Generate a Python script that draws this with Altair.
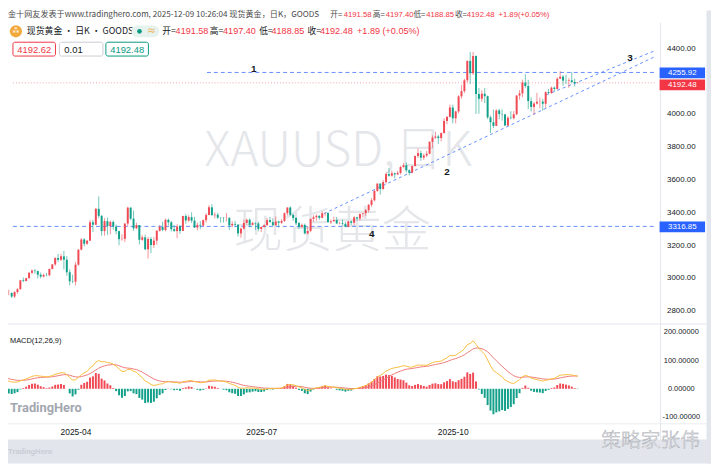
import altair as alt
import pandas as pd
import numpy as np

# ---------------- data (daily XAUUSD, 2025-03-03 .. 2025-12-09, Good Friday excluded) ----------------
# earlier closes (Nov 2024 - Feb 2025), only used to warm up the MACD
warmup_closes = [
    2736, 2736, 2742, 2659, 2706, 2685, 2619, 2598, 2573, 2565, 2563, 2612, 2631, 2651, 2670, 2715, 2625, 2630, 2636, 2640, 2650,
    2639, 2643, 2650, 2632, 2633, 2660, 2694, 2718, 2680, 2648, 2652, 2646, 2586, 2594, 2622, 2612, 2618, 2633, 2621, 2606, 2625,
    2658, 2640, 2636, 2649, 2662, 2670, 2690, 2662, 2677, 2697, 2714, 2703, 2708, 2745, 2755, 2754, 2770, 2740, 2763, 2760, 2794, 2798,
    2815, 2842, 2867, 2856, 2861, 2908, 2898, 2904, 2928, 2883, 2898, 2935, 2933, 2939, 2936, 2951, 2915, 2916, 2876, 2858,
]

opens = [
    # Mar
    2858, 2893, 2918, 2920, 2910, 2910, 2889, 2916, 2934, 2988, 2984, 3001, 3034, 3047, 3044, 3022, 3011, 3020, 3019, 3057, 3085,
    # Apr
    3124, 3113, 3134, 3114, 3037, 2982, 2980, 3083, 3175, 3237, 3211, 3230, 3342, 3327, 3424, 3381, 3288, 3349, 3319, 3344, 3316,
    # May
    3288, 3239, 3241, 3334, 3431, 3364, 3305, 3325, 3235, 3250, 3177, 3240, 3203, 3230, 3290, 3314, 3295, 3357, 3342, 3300, 3288, 3317,
    # Jun
    3289, 3380, 3353, 3373, 3352, 3310, 3326, 3322, 3355, 3386, 3433, 3385, 3388, 3370, 3369, 3368, 3369, 3323, 3332, 3327, 3274,
    # Jul
    3303, 3338, 3357, 3326, 3337, 3335, 3301, 3313, 3324, 3355, 3343, 3324, 3347, 3339, 3350, 3397, 3432, 3387, 3368, 3337, 3314, 3326, 3274,
    # Aug
    3289, 3363, 3373, 3381, 3369, 3397, 3398, 3342, 3348, 3356, 3335, 3336, 3332, 3315, 3348, 3339, 3372, 3365, 3393, 3397, 3416,
    # Sep
    3448, 3476, 3533, 3578, 3545, 3587, 3636, 3626, 3641, 3634, 3643, 3679, 3690, 3659, 3644, 3685, 3746, 3764, 3736, 3749, 3760, 3833,
    # Oct
    3858, 3865, 3856, 3886, 3960, 3985, 4042, 3976, 4018, 4110, 4142, 4208, 4326, 4251, 4356, 4125, 4095, 4126, 4111, 3982, 3952, 3930, 4024,
    # Nov
    4002, 4000, 3932, 3980, 3977, 4001, 4115, 4128, 4194, 4173, 4081, 4045, 4066, 4077, 4078, 4065, 4136, 4131, 4163, 4155,
    # Dec
    4218, 4230, 4206, 4205, 4208, 4198, 4191.58,
]
highs = [
    2895, 2928, 2930, 2927, 2930, 2915, 2922, 2940, 2990, 3005, 3004, 3038, 3055, 3057, 3047, 3035, 3029, 3033, 3060, 3087, 3128,
    3149, 3149, 3167, 3136, 3055, 3023, 3099, 3177, 3245, 3245, 3232, 3357, 3357, 3430, 3500, 3386, 3367, 3371, 3352, 3353, 3328,
    3290, 3269, 3336, 3437, 3434, 3414, 3339, 3325, 3264, 3266, 3252, 3253, 3252, 3295, 3325, 3345, 3365, 3365, 3350, 3325, 3330, 3326,
    3382, 3392, 3385, 3403, 3375, 3340, 3349, 3360, 3398, 3446, 3452, 3403, 3399, 3372, 3374, 3398, 3372, 3348, 3350, 3329, 3310,
    3358, 3365, 3366, 3345, 3343, 3346, 3317, 3330, 3368, 3375, 3366, 3377, 3352, 3361, 3402, 3433, 3439, 3393, 3373, 3345, 3334, 3334, 3315,
    3363, 3385, 3390, 3385, 3409, 3400, 3404, 3358, 3375, 3375, 3345, 3358, 3345, 3350, 3351, 3379, 3376, 3394, 3398, 3423, 3454,
    3489, 3540, 3578, 3579, 3600, 3646, 3674, 3657, 3645, 3655, 3686, 3703, 3707, 3665, 3687, 3749, 3791, 3779, 3761, 3777, 3835, 3872,
    3895, 3875, 3890, 3977, 3990, 4060, 4059, 4022, 4117, 4179, 4218, 4330, 4380, 4381, 4360, 4161, 4147, 4161, 4115, 3993, 4030, 4031, 4034,
    4030, 4003, 3990, 4020, 4020, 4117, 4148, 4212, 4245, 4211, 4104, 4075, 4132, 4103, 4095, 4140, 4155, 4170, 4170, 4225,
    4264, 4240, 4242, 4221, 4259, 4218, 4197.40,
]
lows = [
    2832, 2880, 2894, 2895, 2897, 2880, 2880, 2906, 2930, 2976, 2981, 2998, 3025, 3028, 2999, 3000, 3005, 3012, 3013, 3054, 3076,
    3100, 3106, 3054, 3015, 2957, 2970, 2957, 3076, 3170, 3194, 3204, 3228, 3283, 3325, 3367, 3260, 3260, 3265, 3268, 3297, 3268,
    3202, 3229, 3221, 3318, 3355, 3290, 3300, 3207, 3228, 3172, 3121, 3154, 3185, 3205, 3285, 3287, 3287, 3322, 3286, 3285, 3245, 3271,
    3289, 3333, 3343, 3338, 3307, 3293, 3300, 3314, 3340, 3385, 3383, 3366, 3362, 3340, 3340, 3347, 3295, 3311, 3312, 3255, 3247,
    3298, 3328, 3311, 3323, 3296, 3287, 3282, 3309, 3321, 3341, 3320, 3320, 3309, 3332, 3344, 3383, 3381, 3351, 3325, 3301, 3308, 3268, 3268,
    3281, 3345, 3352, 3357, 3367, 3378, 3341, 3331, 3347, 3331, 3330, 3323, 3311, 3311, 3325, 3322, 3351, 3351, 3372, 3379, 3401,
    3436, 3470, 3528, 3511, 3540, 3578, 3620, 3620, 3610, 3630, 3633, 3675, 3646, 3628, 3640, 3683, 3735, 3717, 3722, 3740, 3757, 3793,
    3850, 3820, 3835, 3884, 3940, 3981, 3945, 3945, 4005, 4095, 4130, 4195, 4185, 4240, 4003, 4004, 4077, 4069, 3971, 3886, 3917, 3930, 3970,
    3962, 3930, 3930, 3970, 3970, 3995, 4090, 4105, 4160, 4032, 4017, 3998, 4060, 4037, 4023, 4041, 4125, 4125, 4140, 4153,
    4215, 4175, 4185, 4162, 4190, 4170, 4188.85,
]
closes = [
    2893, 2918, 2920, 2910, 2910, 2889, 2916, 2934, 2988, 2984, 3001, 3034, 3047, 3044, 3022, 3011, 3020, 3019, 3057, 3085, 3124,
    3113, 3134, 3114, 3037, 2982, 2980, 3083, 3175, 3237, 3211, 3230, 3342, 3327, 3424, 3381, 3288, 3349, 3319, 3344, 3316, 3288,
    3239, 3241, 3334, 3431, 3364, 3305, 3325, 3235, 3250, 3177, 3240, 3203, 3230, 3290, 3314, 3295, 3357, 3342, 3300, 3288, 3317, 3289,
    3380, 3353, 3373, 3352, 3310, 3326, 3322, 3355, 3386, 3433, 3385, 3388, 3370, 3369, 3368, 3369, 3323, 3332, 3327, 3274, 3303,
    3338, 3357, 3326, 3337, 3335, 3301, 3313, 3324, 3355, 3343, 3324, 3347, 3339, 3350, 3397, 3432, 3387, 3368, 3337, 3314, 3326, 3274, 3289,
    3363, 3373, 3381, 3369, 3397, 3398, 3342, 3348, 3356, 3335, 3336, 3332, 3315, 3348, 3339, 3372, 3365, 3393, 3397, 3416, 3448,
    3476, 3533, 3578, 3545, 3587, 3636, 3626, 3641, 3634, 3643, 3679, 3690, 3659, 3644, 3685, 3746, 3764, 3736, 3749, 3760, 3833, 3858,
    3865, 3856, 3886, 3960, 3985, 4042, 3976, 4018, 4110, 4142, 4208, 4326, 4251, 4356, 4125, 4095, 4126, 4111, 3982, 3952, 3930, 4024, 4002,
    4000, 3932, 3980, 3977, 4001, 4115, 4128, 4194, 4173, 4081, 4045, 4066, 4077, 4078, 4065, 4136, 4131, 4163, 4155, 4218,
    4230, 4206, 4205, 4208, 4198, 4190.59, 4192.48,
]

month_labels = ["2025-04", "2025-07", "2025-10"]
month_index = [21, 85, 151]
price_ticks = [4400, 4000, 3800, 3600, 3400, 3200, 3000, 2800]
macd_ticks = [200, 100, 0, -100]

hline_prices = [4255.92, 3316.85]
hline_from = [72.3, 5.44]
last_price = [4192.48]
trend_x0 = [112.6, 189.2]
trend_p0 = [3395, 4119]
trend_x1 = [227.1, 227.1]
trend_p1 = [4356, 4392]
wave_labels = ["1", "2", "3", "4"]
wave_index = [88.4, 155.0, 218.1, 129.1]
wave_price = [4277, 3650, 4344, 3271]

# ---------------- styling / layout ----------------
W, H = 711, 458
RED, GREEN, BLUE, DARK = "#f23645", "#089981", "#2962ff", "#131722"
FONT = "Noto Sans CJK SC"
NUMF = "Liberation Sans"
X_END = 227.1
XS = alt.Scale(domain=[5.44, 244.27], nice=False, zero=False)
PS = alt.Scale(domain=[1870.9, 4633.3], nice=False, zero=False)
MS = alt.Scale(domain=[-264.9, 1342.1], nice=False, zero=False)

n = len(closes)
df = pd.DataFrame({"i": range(n), "o": opens, "h": highs, "l": lows, "c": closes})
df["col"] = np.where(df["c"] >= df["o"], "#f04a55", "#13a08a")

allc = pd.Series(warmup_closes + closes, dtype=float)
ema12 = allc.ewm(span=12, adjust=False).mean()
ema26 = allc.ewm(span=26, adjust=False).mean()
dif = ema12 - ema26
dea = dif.ewm(span=9, adjust=False).mean()
hist = 2 * (dif - dea)
mdf = pd.DataFrame({
    "i": range(n),
    "dif": dif.iloc[-n:].values,
    "dea": dea.iloc[-n:].values,
    "hist": hist.iloc[-n:].values,
})
mdf["zero"] = 0.0
mdf["col"] = np.where(mdf["hist"] >= 0, "#f04a55", "#13a08a")

one = pd.DataFrame({"a": [0]})
X = lambda f: alt.X(f, scale=XS, axis=None)
YP = lambda f: alt.Y(f, scale=PS, axis=None)
YM = lambda f: alt.Y(f, scale=MS, axis=None)


def box(x, x2, y, y2, color, **kw):
    return alt.Chart(one).mark_rect(color=color, **kw).encode(
        x=alt.value(x), x2=alt.value(x2), y=alt.value(y), y2=alt.value(y2))


def txt(s, x, y, size=10, color=DARK, align="left", **kw):
    return alt.Chart(one).mark_text(text=s, align=align, baseline="middle", fontSize=size,
                                    font=kw.pop("font", FONT), color=color, **kw).encode(
        x=alt.value(x), y=alt.value(y))


layers = []
# gray frame parts
layers.append(box(0, W, 433.7, H, "#e2e5eb"))
layers.append(box(706.5, W, 0, H, "#e2e5eb"))
# separators
layers.append(box(659.5, 660.5, 12, 433.7, "#e4e6ec"))
layers.append(box(0, 706.5, 316.5, 317.5, "#e4e6ec"))
layers.append(box(0, 706.5, 417.5, 418.5, "#e4e6ec"))

# watermarks
layers.append(txt("XAUUSD,日K", 334, 143, size=48, color="#e4e6ea", align="center", fontWeight=300))
layers.append(txt("现货黄金", 328, 224, size=50, color="#e4e6ea", align="center", fontWeight=300))

# horizontal lines
hdf = pd.DataFrame({"p": hline_prices, "x0": hline_from, "x1": [X_END] * len(hline_prices)})
layers.append(alt.Chart(hdf).mark_rule(color="#4a7cff", strokeDash=[4, 3], strokeWidth=1, opacity=0.85).encode(
    x=X("x0:Q"), x2="x1:Q", y=YP("p:Q")))
ldf = pd.DataFrame({"p": last_price, "x0": [5.44], "x1": [X_END]})
layers.append(alt.Chart(ldf).mark_rule(color="#f5a3aa", strokeDash=[1, 2], strokeWidth=1).encode(
    x=X("x0:Q"), x2="x1:Q", y=YP("p:Q")))
tdf = pd.DataFrame({"x0": trend_x0, "p0": trend_p0, "x1": trend_x1, "p1": trend_p1})
layers.append(alt.Chart(tdf).mark_rule(color="#4a7cff", strokeDash=[3, 3], strokeWidth=1, opacity=0.85).encode(
    x=X("x0:Q"), x2="x1:Q", y=YP("p0:Q"), y2="p1:Q"))

# candles
layers.append(alt.Chart(df).mark_rule(strokeWidth=1, opacity=0.6).encode(
    x=X("i:Q"), y=YP("l:Q"), y2="h:Q", color=alt.Color("col:N", scale=None)))
layers.append(alt.Chart(df).mark_bar(size=2).encode(
    x=X("i:Q"), y=YP("o:Q"), y2="c:Q", color=alt.Color("col:N", scale=None)))

# wave labels
wdf = pd.DataFrame({"i": wave_index, "p": wave_price, "t": wave_labels})
layers.append(alt.Chart(wdf).mark_text(fontSize=10, fontWeight="bold", font=NUMF, color=DARK,
                                       baseline="middle").encode(x=X("i:Q"), y=YP("p:Q"), text="t:N"))

# MACD
layers.append(alt.Chart(mdf).mark_bar(size=2).encode(
    x=X("i:Q"), y=YM("hist:Q"), y2="zero:Q", color=alt.Color("col:N", scale=None)))
layers.append(alt.Chart(mdf).mark_line(color="#ee7b7b", strokeWidth=1).encode(x=X("i:Q"), y=YM("dea:Q")))
layers.append(alt.Chart(mdf).mark_line(color="#f8bd3c", strokeWidth=1).encode(x=X("i:Q"), y=YM("dif:Q")))

# price axis labels
pdf = pd.DataFrame({"p": price_ticks, "t": [f"{v:.2f}" for v in price_ticks]})
layers.append(alt.Chart(pdf).mark_text(fontSize=8, font=NUMF, color=DARK, align="center",
                                       baseline="middle").encode(x=alt.value(681), y=YP("p:Q"), text="t:N"))
mtdf = pd.DataFrame({"v": macd_ticks, "t": [f"{v:.5f}" for v in macd_ticks]})
layers.append(alt.Chart(mtdf).mark_text(fontSize=7.5, font=NUMF, color=DARK, align="center",
                                        baseline="middle").encode(x=alt.value(681), y=YM("v:Q"), text="t:N"))

# price boxes
bdf = pd.DataFrame({"p": hline_prices, "t": [f"{v:.2f}" for v in hline_prices]})
layers.append(alt.Chart(bdf).mark_rect(color=BLUE, yOffset=-5, y2Offset=6).encode(
    x=alt.value(659), x2=alt.value(705), y=YP("p:Q"), y2="p:Q"))
layers.append(alt.Chart(bdf).mark_text(color="white", fontSize=8, font=NUMF, baseline="middle",
                                       dy=0.5).encode(x=alt.value(682), y=YP("p:Q"), text="t:N"))
rdf = pd.DataFrame({"p": last_price, "t": [f"{v:.2f}" for v in last_price]})
layers.append(alt.Chart(rdf).mark_rect(color=RED, yOffset=-3.5, y2Offset=7.5).encode(
    x=alt.value(659), x2=alt.value(705), y=YP("p:Q"), y2="p:Q"))
layers.append(alt.Chart(rdf).mark_text(color="white", fontSize=8, font=NUMF, baseline="middle",
                                       dy=2).encode(x=alt.value(682), y=YP("p:Q"), text="t:N"))

# month labels
mldf = pd.DataFrame({"i": month_index, "t": month_labels})
layers.append(alt.Chart(mldf).mark_text(fontSize=8.5, font=NUMF, color=DARK, align="left",
                                        baseline="middle", dx=2.5).encode(x=X("i:Q"), y=alt.value(426), text="t:N"))

# header line
GR = "#4a4a4a"
layers.append(txt("金十网友发表于www.tradinghero.com, 2025-12-09 10:26:04 现货黄金，日K，GOODS", 0, 4.5, size=8.2, color=GR))
hdr = [
    ("开=", 326, GR, FONT), ("4191.58", 339.5, RED, NUMF), ("高=", 369, GR, FONT), ("4197.40", 382, RED, NUMF),
    ("低=", 410, GR, FONT), ("4188.85", 423, RED, NUMF), ("收=", 452, GR, FONT), ("4192.48", 464, RED, NUMF),
    ("+1.89(+0.05%)", 496, RED, NUMF),
]
for s, x, c, f in hdr:
    layers.append(txt(s, x, 4.5, size=7.8, color=c, font=f))

# legend row
layers.append(alt.Chart(one).mark_circle(size=150, color="#f2a83b", opacity=1).encode(x=alt.value(8), y=alt.value(21)))
layers.append(txt("⁂", 8, 21, size=8, color="white", align="center"))
layers.append(txt("现货黄金 • 日K • GOODS", 19, 21, size=9, color=DARK))
layers.append(box(125, 153, 15, 27, "#e6f2ee", cornerRadius=6))
layers.append(alt.Chart(one).mark_circle(size=22, color=GREEN, opacity=1).encode(x=alt.value(133), y=alt.value(21)))
layers.append(txt("≈", 145, 21, size=9, color="#f2a83b", align="center"))
leg = [
    ("开=", 156, DARK, FONT), ("4191.58", 169.5, RED, NUMF), ("高=", 204, DARK, FONT), ("4197.40", 217.5, RED, NUMF),
    ("低=", 254, DARK, FONT), ("4188.85", 266.5, RED, NUMF), ("收=", 303, DARK, FONT), ("4192.48", 315.5, RED, NUMF),
    ("+1.89 (+0.05%)", 353, RED, NUMF),
]
for s, x, c, f in leg:
    layers.append(txt(s, x, 21, size=8.8 if f == FONT else 9.2, color=c, font=f))

# boxes row
for (s, x0, x1, c, tc) in [("4192.62", 5, 48, RED, RED), ("0.01", 52, 96, "#c9ccd3", DARK), ("4192.48", 99, 142, GREEN, GREEN)]:
    layers.append(box(x0, x1, 32, 46, "white", stroke=c, strokeWidth=1, cornerRadius=2))
    layers.append(txt(s, (x0 + x1) / 2 if s != "0.01" else x0 + 5, 39.5, size=9.5, color=tc, font=NUMF,
                      align="center" if s != "0.01" else "left"))

# misc labels
layers.append(txt("MACD(12,26,9)", 2, 334, size=7.5, color=DARK, font=NUMF))
layers.append(txt("TradingHero", 2, 402, size=13, color="#a3a7b0", font="Roboto", fontWeight="bold"))
layers.append(txt("TradingHero", 0, 446, size=8, color="#c9cdd5", font="Roboto", fontWeight="bold"))
layers.append(txt("策略家张伟", 650, 435, size=20, color="white", align="center", stroke="#9da2aa",
                  strokeWidth=0.45, fontWeight=300))

chart = alt.layer(*layers).resolve_scale(y="independent", color="independent").properties(
    width=W, height=H, padding=0, autosize=alt.AutoSizeParams(type="none"), background="white"
).configure_view(stroke=None)

chart.save("out.html", embed_options={"renderer": "svg", "actions": False})
